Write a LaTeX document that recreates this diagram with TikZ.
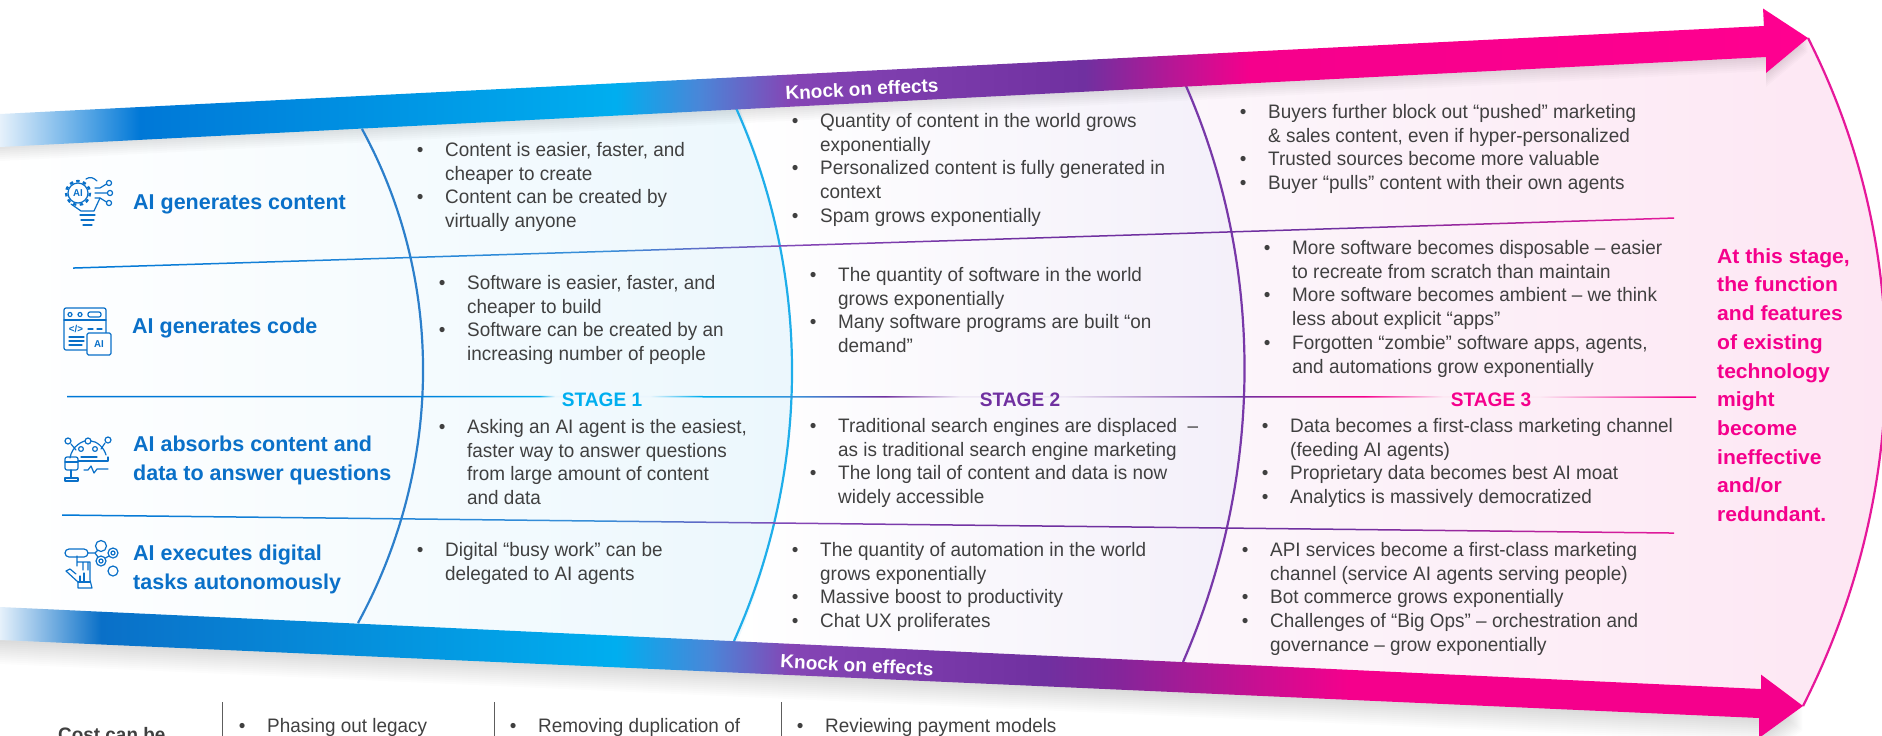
\documentclass[tikz,border=0pt]{standalone}
\usepackage{fontspec}
\setmainfont{Liberation Sans}
\newfontfamily\bodyf[FakeStretch=0.97]{Liberation Sans}
\newfontfamily\stagef[FakeStretch=0.98]{Liberation Sans}
\newfontfamily\headf[FakeStretch=1.0]{Liberation Sans}
\newfontfamily\wideb[FakeStretch=1.03]{Liberation Sans}
\definecolor{txtgray}{HTML}{404040}
\definecolor{rowblue}{HTML}{0A70C8}
\definecolor{barfade}{HTML}{E6F1FB}
\definecolor{barblue}{HTML}{0078D7}
\definecolor{barcyan}{HTML}{00AEEF}
\definecolor{barmid}{HTML}{8545B5}
\definecolor{bartrans}{HTML}{4A86D8}
\definecolor{barpurple}{HTML}{7030A0}
\definecolor{barmagenta}{HTML}{85259A}
\definecolor{barpink}{HTML}{F5008C}
\definecolor{barpinkb}{HTML}{FF0090}
\definecolor{arcone}{HTML}{2C7FCB}
\definecolor{arctwo}{HTML}{1FAEEA}
\definecolor{arcthree}{HTML}{7838A8}
\definecolor{arcfour}{HTML}{E6189A}
\definecolor{palecyan}{HTML}{EAF6FD}
\definecolor{palepurple}{HTML}{EEE8F5}
\definecolor{palepink}{HTML}{FCE8F3}
\definecolor{linemid}{HTML}{3A8FD8}
\definecolor{lineend}{HTML}{E6189A}
\definecolor{regblue}{HTML}{EBF7FD}
\definecolor{regpurple}{HTML}{F3EFF9}
\definecolor{regpinka}{HTML}{FCF6FB}
\definecolor{regpink}{HTML}{FDE6F3}
\pgfdeclarehorizontalshading{topbar}{100bp}{
 color(0bp)=(barfade); color(25bp)=(barfade); color(28.87bp)=(barblue); color(42.03bp)=(barcyan); color(44.36bp)=(bartrans);
 color(46.85bp)=(barmid); color(55bp)=(barpurple); color(59.57bp)=(barpink); color(75bp)=(barpinkb); color(100bp)=(barpinkb)}
\pgfdeclarehorizontalshading{botbar}{100bp}{
 color(0bp)=(barfade); color(25bp)=(barfade); color(27.8bp)=(rowblue); color(42.08bp)=(barcyan); color(44.7bp)=(bartrans);
 color(46.9bp)=(barmid); color(54bp)=(barpurple); color(56.06bp)=(barmagenta); color(62.44bp)=(barpink); color(75bp)=(barpink); color(100bp)=(barpink)}
\pgfdeclarehorizontalshading{lineplain}{100bp}{
 color(0bp)=(barblue); color(25bp)=(barblue); color(41.7bp)=(linemid); color(47.9bp)=(barmid);
 color(54.1bp)=(barpurple); color(64.95bp)=(barpurple); color(75bp)=(lineend); color(100bp)=(lineend)}
\pgfdeclarehorizontalshading{linestage}{100bp}{
 color(0bp)=(barblue); color(25bp)=(barblue); color(35.22bp)=(barblue); color(39.5bp)=(barcyan);
 color(39.98bp)=(palecyan); color(42.89bp)=(palecyan); color(44.43bp)=(barcyan); color(47.5bp)=(linemid);
 color(50.1bp)=(barpurple); color(52.4bp)=(palepurple); color(55.63bp)=(palepurple); color(61.1bp)=(barpurple);
 color(64.81bp)=(barpink); color(67.23bp)=(palepink); color(70.2bp)=(palepink); color(74.5bp)=(barpink); color(75bp)=(barpink); color(100bp)=(barpink)}
\newcommand{\bu}{\makebox[28.4pt][l]{•}}
\newcommand{\ct}{\hspace*{28.4pt}}
\tikzset{
 x=1pt,y=-1pt,
 blk/.style={anchor=north west,inner sep=0pt,align=left,font=\bodyf\fontsize{19.5}{23.8}\selectfont,text=txtgray},
 rowlab/.style={anchor=north west,inner sep=0pt,align=left,font=\headf\bfseries\fontsize{21.5}{29}\selectfont,text=rowblue},
 stagelab/.style={inner sep=0pt,font=\stagef\bfseries\fontsize{19.5}{22}\selectfont},
 knock/.style={inner sep=0pt,text=white,font=\headf\bfseries\fontsize{19}{20}\selectfont},
 arcline/.style={line width=2.2pt},
 iconl/.style={draw=rowblue,line width=1.2pt,line cap=round,line join=round},
 iconlab/.style={inner sep=0pt,text=rowblue,font=\bodyf\bfseries\fontsize{10}{10}\selectfont},
 sepline/.style={draw=txtgray!85,line width=0.8pt},
 stripl/.style={anchor=base west,inner sep=0pt,text=txtgray,font=\bodyf\fontsize{19.5}{23}\selectfont},
}
\newcommand{\blk}[4]{\node[blk] (#1) at ([xshift=-28.4pt,yshift=15pt]#2,#3) {\rule{0pt}{15pt}\bu\ignorespaces#4};}
\newcommand{\rowl}[4]{\node[rowlab] (#1) at ([yshift=16pt]#2,#3) {\rule{0pt}{16pt}#4};}
\begin{document}
\begin{tikzpicture}
\useasboundingbox (0,0) rectangle (1882,736);
\clip (0,0) rectangle (1882,736);
% ---- background regions
\begin{scope}
 \clip (0,130) -- (736,100) .. controls (812,277) and (810,472) .. (734,650) -- (0,620) -- cycle;
 \shade[left color=white,right color=regblue] (0,90) rectangle (815,660);
\end{scope}
\begin{scope}
 \clip (736,100) -- (1186,80) .. controls (1266,269) and (1263,479) .. (1183,670) -- (734,650) .. controls (810,472) and (812,277) .. (736,100) -- cycle;
 \shade[left color=white,right color=regpurple] (736,60) rectangle (1265,690);
\end{scope}
\begin{scope}
 \clip (1186,80) -- (1808,38) .. controls (1915,249) and (1910,495) .. (1803,706) -- (1183,670) .. controls (1263,479) and (1266,269) .. (1186,80) -- cycle;
 \shade[left color=regpinka,right color=regpink] (1186,30) rectangle (1885,710);
\end{scope}
% ---- soft shadows
\foreach \k in {1,2,...,7}{
 \fill[black,opacity=0.016] (0,114+\k*2) -- (1764,26+\k*2) -- (1763,8.5+\k*2) -- (1808,38+\k*2) -- (1766,73+\k*2) -- (1766,57+\k*2) -- (0,147+\k*2) -- cycle;
}
\foreach \k in {1,2,...,12}{
 \fill[black,opacity=0.012] (0,607+\k*2) -- (1761,689+\k*2) -- (1761,674.6+\k*2) -- (1803,706+\k*2) -- (1759,738+\k*2) -- (1759,718+\k*2) -- (0,640+\k*2) -- cycle;
}
% ---- stage arcs
\draw[arcline,draw=arcone] (362,129) .. controls (446,283) and (442,469) .. (358,623);
\draw[arcline,draw=arctwo] (736,108) .. controls (812,277) and (810,472) .. (734,641);
\draw[arcline,draw=arcthree] (1186,86) .. controls (1266,269) and (1263,479) .. (1183,662);
\draw[arcline,draw=arcfour] (1808,38) .. controls (1915,249) and (1910,495) .. (1803,706);
% ---- arrows
\shade[shading=topbar] (0,114) -- (1764,26) -- (1763,8.5) -- (1808,38) -- (1766,73) -- (1766,57) -- (0,147) -- cycle;
\shade[shading=botbar] (0,607) -- (1761,689) -- (1761,674.6) -- (1803,706) -- (1759,738) -- (1759,718) -- (0,640) -- cycle;
% ---- row lines
\shade[shading=lineplain] (73,267.3) -- (1674,217.3) -- (1674,218.8) -- (73,268.8) -- cycle;
\shade[shading=linestage] (67,395.8) -- (1696,396.3) -- (1696,397.8) -- (67,397.3) -- cycle;
\shade[shading=lineplain] (62,514.3) -- (1674,532.3) -- (1674,533.8) -- (62,515.8) -- cycle;
% ---- knock on effects
\node[knock,rotate=3] (knocktop) at (862,89) {Knock on effects};
\node[knock,rotate=-3] (knockbot) at (857,665) {Knock on effects};
% ---- stage labels
\node[stagelab,text=barcyan] (stageone) at (602,400) {STAGE 1};
\node[stagelab,text=barpurple] (stagetwo) at (1020,400) {STAGE 2};
\node[stagelab,text=barpink] (stagethree) at (1491,400) {STAGE 3};
% ---- row labels
\rowl{rowa}{133}{209}{AI generates content}
\rowl{rowb}{132}{333}{AI generates code}
\rowl{rowc}{133}{451}{AI absorbs content and\\data to answer questions}
\rowl{rowd}{133}{560}{AI executes digital\\tasks autonomously}
% ---- column 1
\blk{aa}{445}{156}{Content is easier, faster, and\\\ct cheaper to create\\\bu Content can be created by\\\ct virtually anyone}
\blk{ab}{467}{289}{Software is easier, faster, and\\\ct cheaper to build\\\bu Software can be created by an\\\ct increasing number of people}
\blk{ac}{467}{433}{Asking an AI agent is the easiest,\\\ct faster way to answer questions\\\ct from large amount of content\\\ct and data}
\blk{ad}{445}{556}{Digital “busy work” can be\\\ct delegated to AI agents}
% ---- column 2
\blk{ba}{820}{127}{Quantity of content in the world grows\\\ct exponentially\\\bu Personalized content is fully generated in\\\ct context\\\bu Spam grows exponentially}
\blk{bb}{838}{281}{The quantity of software in the world\\\ct grows exponentially\\\bu Many software programs are built “on\\\ct demand”}
\blk{bc}{838}{432}{Traditional search engines are displaced\ \ –\\\ct as is traditional search engine marketing\\\bu The long tail of content and data is now\\\ct widely accessible}
\blk{bd}{820}{556}{The quantity of automation in the world\\\ct grows exponentially\\\bu Massive boost to productivity\\\bu Chat UX proliferates}
% ---- column 3
\blk{ca}{1268}{118}{Buyers further block out “pushed” marketing\\\ct \&\ sales content, even if hyper-personalized\\\bu Trusted sources become more valuable\\\bu Buyer “pulls” content with their own agents}
\blk{cb}{1292}{254}{More software becomes disposable – easier\\\ct to recreate from scratch than maintain\\\bu More software becomes ambient – we think\\\ct less about explicit “apps”\\\bu Forgotten “zombie” software apps, agents,\\\ct and automations grow exponentially}
\blk{cc}{1290}{432}{Data becomes a first-class marketing channel\\\ct (feeding AI agents)\\\bu Proprietary data becomes best AI moat\\\bu Analytics is massively democratized}
\blk{cd}{1270}{556}{API services become a first-class marketing\\\ct channel (service AI agents serving people)\\\bu Bot commerce grows exponentially\\\bu Challenges of “Big Ops” – orchestration and\\\ct governance – grow exponentially}
% ---- right text
\node[anchor=north west,inner sep=0pt,align=left,text=barpink,font=\wideb\bfseries\fontsize{20.5}{28.7}\selectfont] (closing) at ([yshift=16pt]1717,263) {\rule{0pt}{16pt}At this stage,\\the function\\and features\\of existing\\technology\\might\\become\\ineffective\\and/or\\redundant.};
% ---- bottom strip
\coordinate (sa) at (222,702); \coordinate (sb) at (494,702); \coordinate (sc) at (781,702);
\draw[sepline] (sa) -- (222,740);
\draw[sepline] (sb) -- (494,740);
\draw[sepline] (sc) -- (781,740);
\node[stripl,font=\bodyf\bfseries\fontsize{19.5}{23}\selectfont] (costb) at (58,741) {Cost can be};
\node[stripl] (costa) at (238.6,732) {\bu Phasing out legacy};
\node[stripl] (costc) at (509.6,732) {\bu Removing duplication of};
\node[stripl] (costd) at (796.6,732) {\bu Reviewing payment models};
% ---- icon 1
\draw[iconl] (78,193) circle (10);
\draw[draw=rowblue,line width=2.4pt,dash pattern=on 3.4pt off 3.4pt] (78,193) circle (12);
\node[iconlab] (iconaitext) at (78,193) {AI};
\draw[iconl] (71,204) -- (81,211) -- (94,211) -- (100,198);
\draw[iconl] (86,179) .. controls (90,176) and (94,178) .. (97,181);
\draw[iconl] (80,215) -- (95,215) (81,220) -- (94,220) (83,225) -- (92,225);
\draw[iconl] (109,183) circle (2.6) (110,193) circle (2.6) (109,203) circle (2.6);
\draw[iconl] (95,193) -- (107,193) (95,188) -- (100,188) -- (106.5,184) (95,198) -- (100,198) -- (106.5,202);
% ---- icon 2
\draw[iconl,rounded corners=2pt] (64,308) rectangle (106,350);
\draw[iconl] (64,320) -- (106,320);
\draw[iconl] (70,314.5) circle (2) (80,314.5) circle (2);
\draw[iconl,rounded corners=2pt] (88,312) rectangle (101,317);
\node[iconlab] (iconcode) at (76,329) {</>};
\draw[iconl] (88,329) -- (93,329) (97,329) -- (102,329) (69,337) -- (84,337) (69,345) -- (82,345) (69,341) -- (84,341);
\draw[iconl,rounded corners=1.5pt,fill=white] (87,333) rectangle (111,355);
\node[iconlab] (iconaib) at (99,344.5) {AI};
% ---- icon 3
\draw[iconl] (68,441) circle (3) (88,441) circle (3) (108,440) circle (3) (81,449) circle (2.4) (95,449) circle (2.4);
\draw[iconl] (71,444) -- (76,450) (105,443) -- (101,449) (70,458) .. controls (72,445) and (84,441) .. (85,441) (91,441) .. controls (96,441) and (104,447) .. (106,455);
\draw[iconl,rounded corners=2pt] (65,457) rectangle (78,470);
\draw[iconl] (65,462) -- (78,462) (71,470) -- (71,478) (65,481) -- (78,481) (65,481) -- (65,478) -- (78,478) -- (78,481);
\draw[iconl] (78,461) -- (108,461) (108,461) -- (108,457) (81,457) -- (97,457);
\draw[iconl] (84,470) -- (88,470) -- (91,466) -- (94,473) -- (97,469) -- (108,469);
% ---- icon 4
\draw[iconl,rounded corners=4pt] (65,549) rectangle (88,557);
\draw[iconl] (101,546) circle (5.5) (113,553) circle (5) (113,553) circle (2) (101,561) circle (5) (101,561) circle (2) (113,571) circle (5);
\draw[iconl] (88,553) -- (95,553) -- (98,550) (95,553) -- (98,557) (105.5,558) -- (109,556);
\draw[iconl] (77,556) -- (77,566) (83,563) -- (83,570) (88,563) -- (88,570) (77,562) -- (90,562) -- (90,580) -- (92,588) -- (78,588) -- (78,582) -- (66,571) -- (70,569) -- (76,574);
\draw[iconl] (84,573) -- (84,582) (80,576) -- (80,582) (78,582) -- (90,582);
\end{tikzpicture}
\end{document}
